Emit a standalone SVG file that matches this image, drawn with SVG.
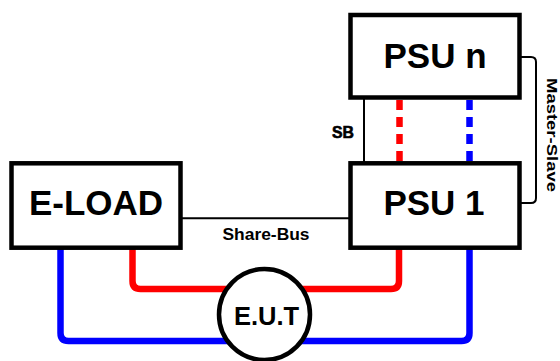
<svg xmlns="http://www.w3.org/2000/svg" width="560" height="361" viewBox="0 0 560 361">
<style>
.box{fill:#fff;stroke:#000;stroke-width:4.5}
.lbl{font-family:"Liberation Sans",Arial,sans-serif;font-weight:bold;fill:#000}
.wire{fill:none;stroke-width:6.5;stroke-linejoin:round}
.thin{fill:none;stroke:#000;stroke-width:2}
.red{stroke:#f00}
.blue{stroke:#00f}
.dash{fill:none;stroke-width:6.5;stroke-dasharray:10 7}
</style>
<rect width="560" height="361" fill="#fff"/>
<g id="connectors">
<path class="wire blue" d="M60.5,248 V333 Q60.5,341 68.5,341 H461.5 Q469.5,341 469.5,333 V248"/>
<path class="wire red" d="M132.5,248 V281 Q132.5,289 140.5,289 H391 Q399,289 399,281 V248"/>
<line class="dash red" x1="399.5" y1="100" x2="399.5" y2="162"/>
<line class="dash blue" x1="469.5" y1="100" x2="469.5" y2="162"/>
<line class="thin" x1="364" y1="99" x2="364" y2="162"/>
<line class="thin" x1="182" y1="218.3" x2="349" y2="218.3"/>
<path class="thin" d="M521,57 H531 Q536,57 536,62 V198 Q536,203 531,203 H521"/>
<text class="lbl" x="266" y="240" font-size="17" text-anchor="middle" textLength="87" lengthAdjust="spacingAndGlyphs">Share-Bus</text>
<text class="lbl" x="343" y="138" font-size="16" text-anchor="middle" textLength="22" lengthAdjust="spacingAndGlyphs" stroke="#000" stroke-width="0.6">SB</text>
<text class="lbl" transform="translate(546.5,135) rotate(90)" x="0" y="0" font-size="15" text-anchor="middle" textLength="114" lengthAdjust="spacingAndGlyphs">Master-Slave</text>
</g>
<g id="psu-n">
<rect class="box" x="350.5" y="15" width="169" height="82.5"/>
<text class="lbl" x="435" y="68" font-size="35" text-anchor="middle">PSU n</text>
</g>
<g id="psu-1">
<rect class="box" x="350.5" y="163.3" width="169" height="84.4"/>
<text class="lbl" x="434" y="215" font-size="35" text-anchor="middle">PSU 1</text>
</g>
<g id="e-load">
<rect class="box" x="11.5" y="163.3" width="169" height="84.4"/>
<text class="lbl" x="96" y="215" font-size="35" text-anchor="middle">E-LOAD</text>
</g>
<g id="eut">
<circle cx="264.5" cy="314.5" r="45.5" fill="#fff" stroke="#000" stroke-width="4.5"/>
<text class="lbl" x="266.5" y="325" font-size="25.5" text-anchor="middle">E.U.T</text>
</g>
</svg>
